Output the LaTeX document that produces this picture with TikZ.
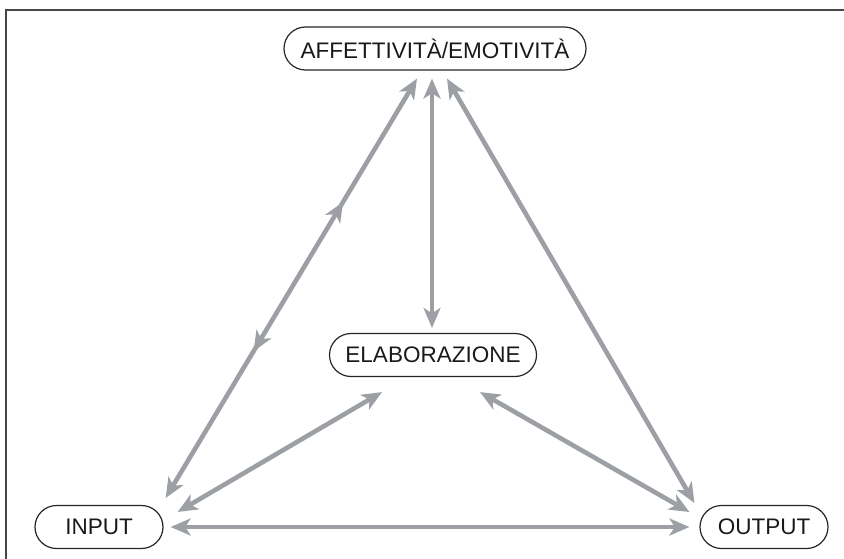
\documentclass[tikz,border=0pt]{standalone}
\usepackage{fontspec}
\setmainfont{Liberation Sans}
\usetikzlibrary{arrows.meta,calc,decorations.markings}
\definecolor{arrowgray}{RGB}{156,160,165}
\definecolor{framegray}{RGB}{70,70,70}
\tikzset{
  gtip/.tip={Stealth[length=20pt, width=17pt, inset=5.5pt]},
  box/.style={draw=black!85, line width=1.2pt, rounded corners=21.5pt, minimum height=43pt, inner sep=0pt, font=\fontsize{22.5}{26}\selectfont, text=black!90},
  conn/.style={draw=arrowgray, line width=4.6pt, {gtip}-{gtip}},
  midmarks/.style={postaction={decorate}, decoration={markings,
      mark=at position 0.706 with {\arrow[arrowgray]{gtip}},
      mark=at position 0.35 with {\arrowreversed[arrowgray]{gtip}}}}
}
\begin{document}
\begin{tikzpicture}[x=1pt,y=-1pt]
\useasboundingbox (0,0) rectangle (844,559);
\draw[framegray, line width=1.5pt] (6,559) -- (6,10) -- (844,10);
\node[box, minimum width=302pt] (aff) at (435,48.5) {AFFETTIVITÀ/EMOTIVITÀ};
\node[box, minimum width=207pt] (elab) at (433,355) {ELABORAZIONE};
\node[box, minimum width=128pt] (in) at (99,527) {INPUT};
\node[box, minimum width=128pt] (out) at (764,527) {OUTPUT};
% connectors
\draw[conn, midmarks] ($(in.east)+(2,-29)$) -- ($(aff.south)+(-18,8)$);
\draw[conn] ($(elab.north)+(-1,-5)$) -- ($(aff.south)+(-3,8)$);
\draw[conn] ($(out.west)+(-5,-24)$) -- ($(aff.south)+(12,8)$);
\draw[conn] ($(in.east)+(14,-15)$) -- ($(elab.south)+(-51,15)$);
\draw[conn] ($(out.west)+(-10,-15)$) -- ($(elab.south)+(47,15)$);
\draw[conn] ($(in.east)+(7,0)$) -- ($(out.west)+(-10,0)$);
\end{tikzpicture}
\end{document}
